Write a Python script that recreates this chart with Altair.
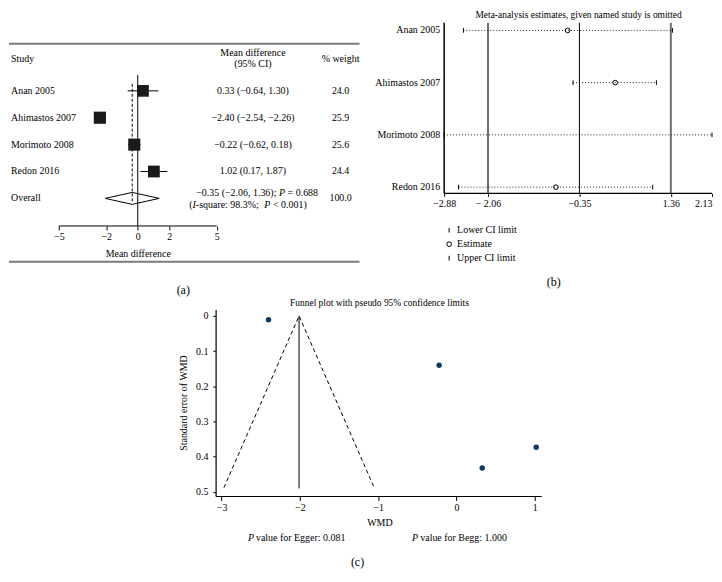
import altair as alt
import pandas as pd

FONT = "Liberation Serif"
INK = "black"

# ---------------- data ----------------
studies = ["Anan 2005", "Ahimastos 2007", "Morimoto 2008", "Redon 2016"]
md_est = [0.33, -2.40, -0.22, 1.02]
md_lo = [-0.64, -2.54, -0.62, 0.17]
md_hi = [1.30, -2.26, 0.18, 1.87]
md_weight = [24.0, 25.9, 25.6, 24.4]
md_text = ["0.33 (−0.64, 1.30)", "−2.40 (−2.54, −2.26)", "−0.22 (−0.62, 0.18)", "1.02 (0.17, 1.87)"]
overall_est, overall_lo, overall_hi = -0.35, -2.06, 1.36
# overall summary text, split into (text, italic) pieces
overall_line1 = [("−0.35 (−2.06, 1.36);", False), ("P", True), ("= 0.688", False)]
overall_line2 = [("(", False), ("I", True), ("-square: 98.3%;", False), ("P", True), ("< 0.001)", False)]
overall_weight = "100.0"
forest_ticks = [-5, -2, 0, 2, 5]

inf_lower = [-2.52, -0.47, -2.88, -2.61]
inf_est = [-0.57, 0.32, None, -0.79]
inf_upper = [1.39, 1.09, 2.13, 1.02]
inf_ticks = [-2.88, -2.06, -0.35, 1.36, 2.13]
inf_kinds = ["Lower CI limit", "Estimate", "Upper CI limit"]

funnel_wmd = [-2.40, -0.22, 0.33, 1.02]
funnel_se = [0.011, 0.140, 0.432, 0.373]
funnel_limit_x = [-2.97, -2.01, -1.05]
funnel_limit_se = [0.488, 0.0, 0.488]
funnel_center = -2.01
funnel_center_se = [0.0, 0.49]
funnel_x_ticks = [-3, -2, -1, 0, 1]
funnel_y_ticks = [0, 0.1, 0.2, 0.3, 0.4, 0.5]
funnel_x_extent = [-3.07, 1.09]
funnel_y_extent = [-0.017, 0.513]

one = pd.DataFrame({"k": [0]})


def txt(s, x, y, size=10, align="center", style="normal", baseline="middle"):
    return alt.Chart(one).mark_text(
        text=s, font=FONT, fontSize=size, align=align, baseline=baseline,
        fontStyle=style, color=INK,
    ).encode(x=alt.value(x), y=alt.value(y))


def hline(x1, x2, y, color, width):
    return alt.Chart(one).mark_rule(color=color, strokeWidth=width).encode(
        x=alt.value(x1), x2=alt.value(x2), y=alt.value(y))


# ---------------- panel (a): forest plot ----------------
WA, HA = 362, 288
xa = alt.Scale(domain=[-8.158, 14.681], nice=False, zero=False)
ya = alt.Scale(domain=[8.630, -2.037], nice=False, zero=False)

n = len(studies)
forest = pd.DataFrame({
    "study": studies, "row": list(range(1, n + 1)), "est": md_est,
    "lo": md_lo, "hi": md_hi, "w": md_weight, "ci": md_text,
})
names_a = pd.DataFrame({"label": studies + ["Overall"], "row": list(range(1, n + 2)),
                        "wt": [f"{w:.1f}" for w in md_weight] + [overall_weight]})
h = 6 / 27
diamond = pd.DataFrame({
    "x": [overall_lo, overall_est, overall_hi, overall_est, overall_lo],
    "y": [n + 1, n + 1 - h, n + 1, n + 1 + h, n + 1],
    "o": [0, 1, 2, 3, 4],
})
overall_row = pd.DataFrame({"row": [n + 1]})

ci_rules = alt.Chart(forest).mark_rule(color=INK, strokeWidth=1).encode(
    x=alt.X("lo:Q", scale=xa), x2="hi:Q",
    y=alt.Y("row:Q", scale=ya, axis=None))
dia = alt.Chart(diamond).mark_line(color=INK, strokeWidth=1).encode(
    x=alt.X("x:Q", scale=xa), y=alt.Y("y:Q", scale=ya, axis=None), order="o:Q")
zero_line = alt.Chart(pd.DataFrame({"x": [0]})).mark_rule(color=INK, strokeWidth=1).encode(
    x=alt.X("x:Q", scale=xa), y=alt.value(66), y2=alt.value(217.7))
ov_line = alt.Chart(pd.DataFrame({"x": [overall_est]})).mark_rule(
    color=INK, strokeWidth=1, strokeDash=[3, 2]).encode(
    x=alt.X("x:Q", scale=xa), y=alt.value(75), y2=alt.value(195))
axis_line_a = alt.Chart(pd.DataFrame({"a": [forest_ticks[0]], "b": [forest_ticks[-1]]})).mark_rule(
    color=INK, strokeWidth=1).encode(
    x=alt.X("a:Q", scale=xa), x2="b:Q", y=alt.value(217.7))
squares = alt.Chart(forest).mark_square(color="#1a1a1a", opacity=1).encode(
    x=alt.X("est:Q", scale=xa, axis=alt.Axis(
        values=forest_ticks, domain=False, tickSize=4, labelPadding=2, format="d",
        offset=-70.3, title="Mean difference", titleX=129.3, titleY=27.3,
        titleAlign="center", titleBaseline="middle", labelFlush=False)),
    y=alt.Y("row:Q", scale=ya, axis=None),
    size=alt.Size("w:Q", scale=alt.Scale(domain=[0, 100], range=[0, 576]), legend=None))
names_t = alt.Chart(names_a).mark_text(align="left", baseline="middle", font=FONT,
                                       fontSize=10, color=INK).encode(
    x=alt.value(2), y=alt.Y("row:Q", scale=ya, axis=None), text="label:N")
ci_t = alt.Chart(forest).mark_text(align="center", baseline="middle", font=FONT,
                                   fontSize=10, color=INK).encode(
    x=alt.value(245), y=alt.Y("row:Q", scale=ya, axis=None), text="ci:N")
wt_t = alt.Chart(names_a).mark_text(align="center", baseline="middle", font=FONT,
                                    fontSize=10, color=INK).encode(
    x=alt.value(333), y=alt.Y("row:Q", scale=ya, axis=None), text="wt:N")


def pieces(parts, x0, widths, dy):
    """Place text pieces (some italic) one after another on the overall row."""
    layers = []
    x = x0
    for (s, it), w in zip(parts, widths):
        layers.append(alt.Chart(overall_row).mark_text(
            text=s, dy=dy, font=FONT, fontSize=10, color=INK, baseline="middle",
            align="left", fontStyle="italic" if it else "normal").encode(
            x=alt.value(x), y=alt.Y("row:Q", scale=ya, axis=None)))
        x += w
    return layers


# advance widths (px) of each piece incl. the following space, Times metrics at 10 px
ov1 = pieces(overall_line1, 188, [83.2, 8.6, 0], -5)
ov2 = pieces(overall_line2, 181, [3.33, 3.33, 68.8, 8.6, 0], 7)

panel_a = alt.layer(
    hline(0, 352, 34.7, "#7a7a7a", 2),
    hline(0, 352, 253.7, "#7a7a7a", 2),
    txt("Study", 2, 50, align="left"),
    txt("Mean difference", 245, 43.7),
    txt("(95% CI)", 245, 54.7),
    txt("% weight", 333, 50),
    ci_rules, dia, zero_line, ov_line, axis_line_a, squares,
    names_t, ci_t, wt_t, *ov1, *ov2,
    txt("(a)", 175, 282, size=12),
).properties(width=WA, height=HA)

# ---------------- panel (b): influence analysis ----------------
WB, HB = 342, 288
B_LEFT = WA + 2  # offset of panel (b) inside the whole figure (legend is placed at top level)
xb = alt.Scale(domain=[-4.2397, 2.13], nice=False, zero=False)
yb = alt.Scale(domain=[6.083, 0.594], nice=False, zero=False)

inf = pd.DataFrame({"study": studies, "row": list(range(1, n + 1)),
                    "lower": inf_lower, "upper": inf_upper})
pts = []
for i in range(n):
    for kind, val in zip(inf_kinds, [inf_lower[i], inf_est[i], inf_upper[i]]):
        if val is not None:
            pts.append({"row": i + 1, "kind": kind, "value": val})
pts = pd.DataFrame(pts)
TICK = "M0,-1L0,1"

gray_lines = alt.Chart(pd.DataFrame({"x": [overall_lo, overall_hi]})).mark_rule(
    color="#6f6f6f", strokeWidth=2).encode(
    x=alt.X("x:Q", scale=xb), y=alt.value(13.7), y2=alt.value(185))
est_line = alt.Chart(pd.DataFrame({"x": [overall_est]})).mark_rule(
    color=INK, strokeWidth=1).encode(
    x=alt.X("x:Q", scale=xb), y=alt.value(13.7), y2=alt.value(185))
left_line = alt.Chart(pd.DataFrame({"x": [inf_ticks[0]]})).mark_rule(
    color=INK, strokeWidth=1.5).encode(
    x=alt.X("x:Q", scale=xb), y=alt.value(13.7), y2=alt.value(185))
axis_line_b = alt.Chart(pd.DataFrame({"a": [inf_ticks[0]], "b": [inf_ticks[-1]]})).mark_rule(
    color=INK, strokeWidth=1.2).encode(
    x=alt.X("a:Q", scale=xb), x2="b:Q", y=alt.value(185))
dots = alt.Chart(inf).mark_rule(color="#222222", strokeWidth=1, strokeDash=[1, 2]).encode(
    x=alt.X("lower:Q", scale=xb, axis=alt.Axis(
        values=inf_ticks, domain=False, tickSize=3, labelPadding=2, offset=-103,
        title=None, labelFlush=True,
        labelExpr="datum.value == -2.06 ? '− 2.06' : format(datum.value, '.2f')")),
    x2="upper:Q", y=alt.Y("row:Q", scale=yb, axis=None))
marks_b = alt.Chart(pts).mark_point(filled=False, color=INK, size=22, strokeWidth=1,
                                    opacity=1).encode(
    x=alt.X("value:Q", scale=xb), y=alt.Y("row:Q", scale=yb, axis=None),
    shape=alt.Shape("kind:N", scale=alt.Scale(domain=inf_kinds, range=[TICK, "circle", TICK]),
                    legend=alt.Legend(orient="none", legendX=B_LEFT + 73, legendY=217,
                                      title=None,
                                      labelFont=FONT, labelFontSize=10, labelColor=INK,
                                      symbolSize=22, symbolStrokeWidth=1,
                                      symbolStrokeColor=INK, rowPadding=4, padding=0,
                                      labelOffset=3)))
names_b = alt.Chart(inf).mark_text(align="right", baseline="middle", font=FONT,
                                   fontSize=10, color=INK).encode(
    x=alt.value(69), y=alt.Y("row:Q", scale=yb, axis=None), text="study:N")

panel_b = alt.layer(
    txt("Meta-analysis estimates, given named study is omitted", 208, 6, size=9.5),
    gray_lines, est_line, left_line, axis_line_b, dots, marks_b, names_b,
    txt("(b)", 183, 274, size=12),
).properties(width=WB, height=HB)

# ---------------- panel (c): funnel plot ----------------
WC, HC = 706, 278
xc = alt.Scale(domain=[-5.716, 3.266], nice=False, zero=False)
yc = alt.Scale(domain=[0.7298, -0.0566], nice=False, zero=False)

fun = pd.DataFrame({"wmd": funnel_wmd, "se": funnel_se})
limits = pd.DataFrame({"x": funnel_limit_x, "se": funnel_limit_se, "o": [0, 1, 2]})
center = pd.DataFrame({"x": [funnel_center], "a": [funnel_center_se[0]], "b": [funnel_center_se[1]]})

pts_c = alt.Chart(fun).mark_circle(color="#0b3a63", size=30, opacity=1).encode(
    x=alt.X("wmd:Q", scale=xc, axis=alt.Axis(
        values=funnel_x_ticks, format="d", domain=False, tickSize=4, labelPadding=2,
        offset=-76.7, title="WMD", titleX=372, titleY=26.7, titleAlign="center",
        titleBaseline="middle", labelFlush=False)),
    y=alt.Y("se:Q", scale=yc, axis=alt.Axis(
        values=funnel_y_ticks, format=".1~f", domain=False, tickSize=3, labelPadding=5,
        offset=-207.7, title="Standard error of WMD", titleX=-32.7, titleY=107,
        titleAngle=270, titleAlign="center", titleBaseline="middle")))
lim_c = alt.Chart(limits).mark_line(color=INK, strokeWidth=1, strokeDash=[4, 3]).encode(
    x=alt.X("x:Q", scale=xc), y=alt.Y("se:Q", scale=yc), order="o:Q")
ctr_c = alt.Chart(center).mark_rule(color=INK, strokeWidth=1).encode(
    x=alt.X("x:Q", scale=xc), y=alt.Y("a:Q", scale=yc), y2="b:Q")
xax_c = alt.Chart(pd.DataFrame({"a": [funnel_x_extent[0]], "b": [funnel_x_extent[1]],
                                "y": [funnel_y_extent[1]]})).mark_rule(
    color=INK, strokeWidth=1.2).encode(
    x=alt.X("a:Q", scale=xc), x2="b:Q", y=alt.Y("y:Q", scale=yc))
yax_c = alt.Chart(pd.DataFrame({"x": [funnel_x_extent[0]], "a": [funnel_y_extent[0]],
                                "b": [funnel_y_extent[1]]})).mark_rule(
    color=INK, strokeWidth=1.2).encode(
    x=alt.X("x:Q", scale=xc), y=alt.Y("a:Q", scale=yc), y2="b:Q")

panel_c = alt.layer(
    txt("Funnel plot with pseudo 95% confidence limits", 372, 7, size=9.5),
    pts_c, lim_c, ctr_c, xax_c, yax_c,
    txt("P", 240, 243, align="left", style="italic"),
    txt("value for Egger: 0.081", 248, 243, align="left"),
    txt("P", 404.7, 243, align="left", style="italic"),
    txt("value for Begg: 1.000", 413, 243, align="left"),
    txt("(c)", 350, 267, size=12),
).properties(width=WC, height=HC)

chart = alt.vconcat(
    alt.hconcat(panel_a, panel_b, spacing=2),
    panel_c,
    spacing=0,
).properties(padding=0, background="white").configure_view(stroke=None).configure_axis(
    grid=False, labelFont=FONT, titleFont=FONT, labelColor=INK, tickColor=INK,
    titleColor=INK, labelFontSize=10, titleFontSize=10, titleFontWeight="normal",
)

chart.save("out.html", embed_options={"renderer": "svg", "actions": False})
